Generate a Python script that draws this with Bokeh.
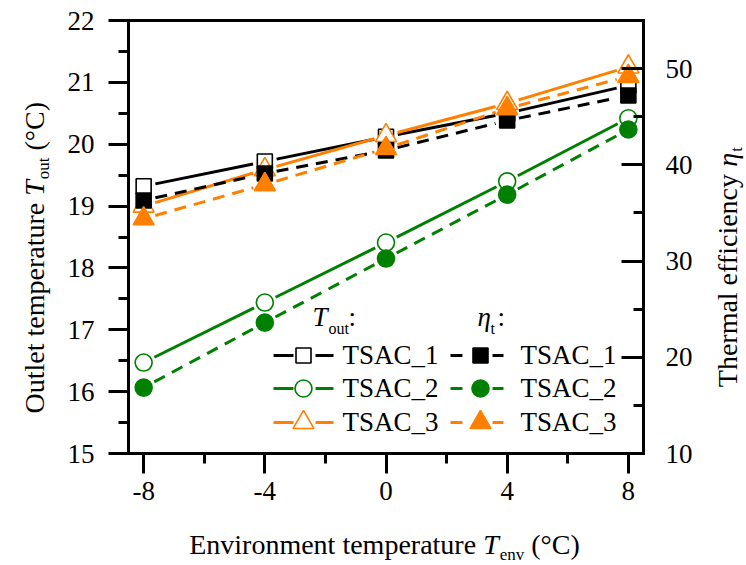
import math
from bokeh.plotting import figure
from bokeh.models import Range1d, LinearAxis, FixedTicker, Label
from bokeh.embed import file_html
from bokeh.resources import INLINE

# ---------------- data ----------------
x_env = [-8, -4, 0, 4, 8]
series_names = ["TSAC_1", "TSAC_2", "TSAC_3"]
tout_tsac1 = [19.32, 19.72, 20.12, 20.50, 20.95]
tout_tsac2 = [16.47, 17.44, 18.41, 19.40, 20.42]
tout_tsac3 = [19.00, 19.59, 20.14, 20.66, 21.25]
eta_tsac1 = [36.3, 39.1, 41.5, 44.6, 47.2]
eta_tsac2 = [16.85, 23.6, 30.26, 36.9, 43.67]
eta_tsac3 = [34.4, 37.95, 41.7, 45.85, 49.2]

x_ticks = [-8, -4, 0, 4, 8]
x_minor = [-6, -2, 2, 6]
left_ticks = [15, 16, 17, 18, 19, 20, 21, 22]
left_minor = [15.5, 16.5, 17.5, 18.5, 19.5, 20.5, 21.5]
right_ticks = [10, 20, 30, 40, 50]
right_minor = [15, 25, 35, 45]

# ---------------- layout ----------------
W, H = 746, 565
FL, FR, FT, FB = 128, 643, 20, 453          # plot box in canvas pixels
XR = (-8.5, 8.5)
YL = (15.0, 22.0)
YE = (10.0, 55.0)
FONT = "'Liberation Serif', 'Times New Roman', serif"
BLACK, GREEN, ORANGE = "#000000", "#008000", "#FF8000"

# view ranges cover the whole canvas so that titles outside the box are not clipped
SX = (FR - FL) / (XR[1] - XR[0])
X_VIEW = (XR[0] - FL / SX, XR[1] + (W - FR) / SX)


def view_range(yr):
    s = (FB - FT) / (yr[1] - yr[0])
    return (yr[0] - (H - FB) / s, yr[1] + FT / s)


YL_VIEW = view_range(YL)
YE_VIEW = view_range(YE)

p = figure(width=W, height=H, x_range=Range1d(*X_VIEW), y_range=Range1d(*YL_VIEW),
           output_backend="svg", toolbar_location=None,
           min_border=0, min_border_left=0, min_border_right=0,
           min_border_top=0, min_border_bottom=0)
p.extra_y_ranges = {"eta": Range1d(*YE_VIEW)}
p.xgrid.visible = False
p.ygrid.visible = False
p.outline_line_color = None
p.background_fill_color = "white"
p.border_fill_color = "white"


def style_axis(ax, ticks, minor, tin, tout, mtin, mtout, standoff):
    ax.ticker = FixedTicker(ticks=ticks, minor_ticks=minor)
    ax.major_tick_in = tin
    ax.major_tick_out = tout
    ax.minor_tick_in = mtin
    ax.minor_tick_out = mtout
    ax.axis_line_width = 3
    ax.axis_line_cap = "square"
    ax.major_tick_line_width = 3
    ax.minor_tick_line_width = 3
    ax.axis_line_color = BLACK
    ax.major_tick_line_color = BLACK
    ax.minor_tick_line_color = BLACK
    ax.major_label_text_font = FONT
    ax.major_label_text_font_size = "27px"
    ax.major_label_text_color = BLACK
    ax.major_label_standoff = standoff
    ax.major_label_overrides = {v: str(v) for v in ticks}


xa = p.xaxis[0]
style_axis(xa, x_ticks, x_minor, 0, 20, 0, 10, 8)
xa.fixed_location = YL[0]
xa.bounds = XR

ya = p.yaxis[0]
style_axis(ya, left_ticks, left_minor, 0, 20, 0, 10, 14)
ya.fixed_location = XR[0]
ya.bounds = YL

ra = LinearAxis(y_range_name="eta")
style_axis(ra, right_ticks, right_minor, 22, 0, 10, 0, 22)
ra.fixed_location = XR[1]
ra.bounds = YE
p.add_layout(ra, "right")

ta = LinearAxis()
style_axis(ta, [], [], 0, 0, 0, 0, 0)
ta.major_label_text_font_size = "0px"
ta.fixed_location = YL[1]
ta.bounds = XR
p.add_layout(ta, "above")


# --- pixel <-> data helpers (canvas geometry) ---
def px2x(X):
    return X_VIEW[0] + X / SX


def py2y(Y, yr=YL_VIEW):
    s = H / (yr[1] - yr[0])
    return yr[1] - Y / s


def to_px(x, y, yr):
    s = H / (yr[1] - yr[0])
    return ((x - X_VIEW[0]) * SX, (yr[1] - y) * s)


def gapped(xs, ys, yr, gap):
    d = dict(x0=[], y0=[], x1=[], y1=[])
    for i in range(len(xs) - 1):
        ax_, ay_ = to_px(xs[i], ys[i], yr)
        bx_, by_ = to_px(xs[i + 1], ys[i + 1], yr)
        dx, dy = bx_ - ax_, by_ - ay_
        L = math.hypot(dx, dy)
        ux, uy = dx / L, dy / L
        d["x0"].append(px2x(ax_ + ux * gap))
        d["y0"].append(py2y(ay_ + uy * gap, yr))
        d["x1"].append(px2x(bx_ - ux * gap))
        d["y1"].append(py2y(by_ - uy * gap, yr))
    return d


colors = [BLACK, GREEN, ORANGE]
markers = ["square", "circle", "triangle"]
msizes = [15, 17, 21]
touts = [tout_tsac1, tout_tsac2, tout_tsac3]
etas = [eta_tsac1, eta_tsac2, eta_tsac3]
DASH = "12 8"

# lines
for c, ys in zip(colors, touts):
    p.segment(line_color=c, line_width=3, **gapped(x_env, ys, YL_VIEW, 12))
for c, ys in zip(colors, etas):
    p.segment(line_color=c, line_width=3, line_dash=DASH, y_range_name="eta",
              **gapped(x_env, ys, YE_VIEW, 12))

# markers: open (T_out) then filled (eta)
for c, m, s, ys in zip(colors, markers, msizes, touts):
    p.scatter(x_env, ys, marker=m, size=s, fill_color="white", line_color=c, line_width=1.6)
for c, m, s, ys in zip(colors, markers, msizes, etas):
    p.scatter(x_env, ys, marker=m, size=s, fill_color=c, line_color=c, line_width=1.6,
              y_range_name="eta")

# ---------------- text helpers ----------------
WID = {' ': 250, '(': 333, ')': 333, '°': 400, 'C': 667, 'E': 611, 'O': 722, 'T': 611,
       'S': 556, 'A': 722, '_': 500, '1': 500, ':': 278, 'a': 444, 'c': 444, 'e': 444,
       'f': 333, 'h': 500, 'i': 278, 'l': 278, 'm': 778, 'n': 500, 'o': 500, 'p': 500,
       'r': 333, 't': 278, 'u': 500, 'v': 500, 'y': 500}
BASE_FIX = 0.3   # empirical baseline correction (fraction of font size)


def tw(s, size, italic=False):
    if italic:
        return sum({'T': 556, 'η': 500}.get(ch, WID.get(ch, 500)) for ch in s) / 1000 * size
    return sum(WID.get(ch, 500) for ch in s) / 1000 * size


def add_text(X, Y, txt, size, italic=False, angle=0.0, align="left"):
    p.add_layout(Label(x=px2x(X), y=py2y(Y), text=txt, text_font=FONT,
                       text_font_size=f"{size}px",
                       text_font_style="italic" if italic else "normal",
                       angle=angle, text_align=align, text_baseline="alphabetic",
                       text_color=BLACK))


def hline_text(X, Yb, txt, size, italic=False):
    add_text(X, Yb - BASE_FIX * size, txt, size, italic)


TS, SS = 28, 17  # title size, subscript size
SP = tw(" ", TS)

# x-axis title (pieces laid out left to right on baseline 552)
pieces_x = [("Environment temperature", TS, False, 0, 0), ("T", TS, True, 0, SP),
            ("env", SS, False, 7, 1), ("(°C)", TS, False, 0, SP)]
total = sum(tw(t, s, it) + g for t, s, it, _, g in pieces_x)
X = 384 - total / 2
for t, s, it, off, g in pieces_x:
    X += g
    hline_text(X, 552 + off, t, s, it)
    X += tw(t, s, it)


def vertical_title(pieces, y_start, x_base):
    """Rotated title reading bottom->top; pieces anchored at their centres."""
    Y = y_start
    for t, s, it, off, g in pieces:
        Y -= g
        w = tw(t, s, it)
        add_text(x_base + off - BASE_FIX * s, Y - w / 2, t, s, it,
                 angle=math.pi / 2, align="center")
        Y -= w


vertical_title([("Outlet temperature", TS, False, 0, 0), ("T", TS, True, 0, SP),
                ("out", SS, False, 6, 1), ("(°C)", TS, False, 0, SP)], 413, 42)
vertical_title([("Thermal efficiency", TS, False, 0, 0), ("η", TS, True, 0, SP),
                ("t", SS, False, 6, 1)], 387, 735)

# ---------------- legend ----------------
LS = 27
hline_text(312, 325, "T", LS, True)
hline_text(328, 333, "out", 16)
hline_text(348, 325, ":", LS)
hline_text(477, 325, "η", LS, True)
hline_text(490, 333, "t", 16)
hline_text(497, 325, ":", LS)

rows = [355, 388, 422]
for Yc, name, c, m, s in zip(rows, series_names, colors, markers, msizes):
    yv = py2y(Yc)
    # T_out entry: solid line + open marker
    p.segment(x0=[px2x(273), px2x(315)], y0=[yv, yv], x1=[px2x(293), px2x(333)], y1=[yv, yv],
              line_color=c, line_width=3)
    p.scatter([px2x(303)], [yv], marker=m, size=s, fill_color="white", line_color=c, line_width=1.6)
    hline_text(342, Yc + 8, name, LS)
    # eta entry: dashed + filled marker
    p.segment(x0=[px2x(450), px2x(492)], y0=[yv, yv], x1=[px2x(462), px2x(503)], y1=[yv, yv],
              line_color=c, line_width=3)
    p.scatter([px2x(480)], [yv], marker=m, size=s, fill_color=c, line_color=c, line_width=1.6)
    hline_text(520, Yc + 8, name, LS)

open("out.html", "w").write(file_html(p, INLINE))
